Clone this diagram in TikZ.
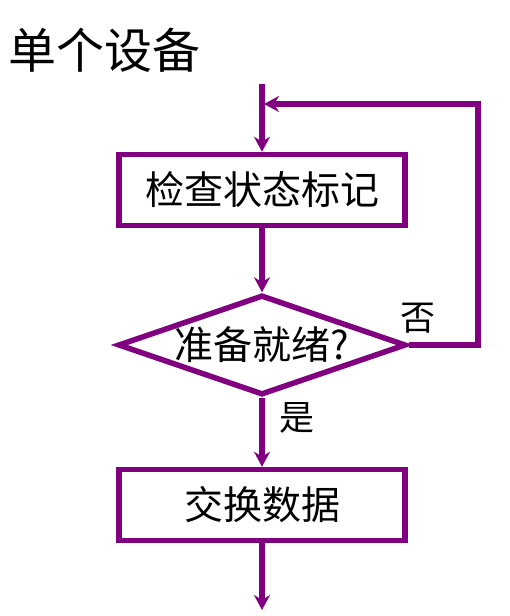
\documentclass[tikz,border=0pt]{standalone}
\usepackage{fontspec}
\newfontfamily\cjk{Noto Sans CJK SC}
\usepackage{tikz}
\usetikzlibrary{shapes.geometric, arrows.meta}
\definecolor{flowpurple}{RGB}{128,0,128}
\tikzset{every node/.style={align=center}}
\tikzset{flowline/.style={line width=5.5pt, flowpurple, line join=miter}}
\tikzset{arrowline/.style={flowline, -{Stealth[length=15pt, width=16pt, inset=5pt]}}}
\tikzset{procbox/.style={draw=flowpurple, line width=5.5pt, rectangle, minimum width=286pt, minimum height=71pt, inner sep=0pt, font=\cjk\fontsize{39}{42}\selectfont}}
\tikzset{decision/.style={draw=flowpurple, line width=5.5pt, diamond, aspect=2.9, minimum width=288pt, minimum height=100pt, inner sep=0pt, font=\cjk\fontsize{39}{42}\selectfont}}
\tikzset{answer/.style={font=\cjk\fontsize{35}{38}\selectfont, inner sep=0pt}}

\begin{document}
\begin{tikzpicture}[x=1pt, y=1pt]
		\useasboundingbox (0,0) rectangle (510,616);

		% Coordinates
		\coordinate (start) at (262,532);
		\coordinate (join) at (264,512);
		\coordinate (back) at (478,512);
		\coordinate (finish) at (262,6);

		% Title
		\node[anchor=west, inner sep=0pt, font=\cjk\fontsize{48}{50}\selectfont] (title) at (8,566) {单个设备};

		% Boxes
		\node[procbox] (check) at (262,426) {检查状态标记};
		\node[decision] (ready) at (262,271) {准备就绪?};
		\node[procbox] (swap) at (262,111) {交换数据};

		% Answers
		\node[answer] (no) at (418,298) {否};
		\node[answer] (yes) at (297,198) {是};

		% Arrows
		\draw[arrowline] (start) -- (check);
		\draw[arrowline] (check) -- (ready);
		\draw[arrowline] (ready) -- (swap);
		\draw[arrowline] (swap) -- (finish);
		%% Loop back
		\draw[arrowline] (ready.east) -| (back) -- (join);
\end{tikzpicture}
\end{document}
